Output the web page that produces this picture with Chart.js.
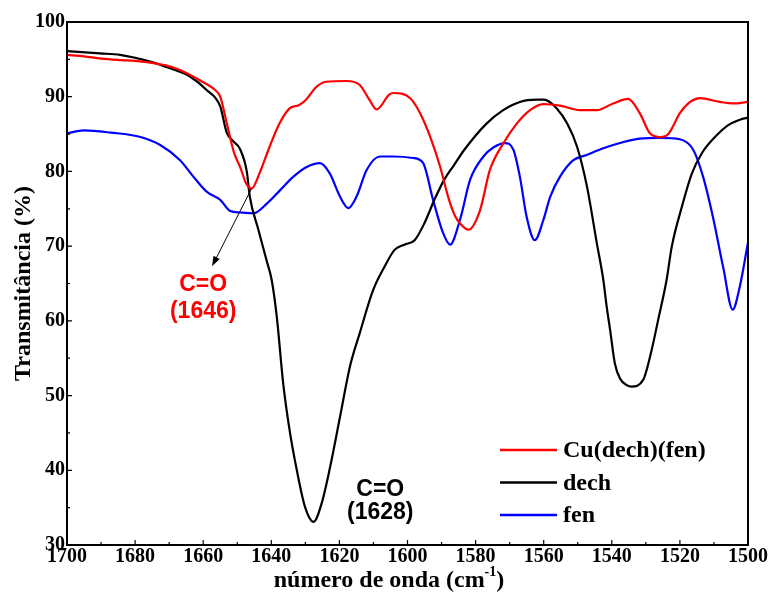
<!DOCTYPE html>
<html>
<head>
<meta charset="utf-8">
<script src="https://cdn.jsdelivr.net/npm/chart.js@4.4.1/dist/chart.umd.min.js"></script>
<style>
  html, body { margin: 0; padding: 0; background: #fff; }
  #wrap { width: 770px; height: 601px; }
</style>
</head>
<body>
<div id="wrap"><canvas id="ftir"></canvas></div>
<script>
// ── 数据 ─────────────────────────────────────────
const X_TICKS = [1700, 1680, 1660, 1640, 1620, 1600, 1580, 1560, 1540, 1520, 1500];
const Y_TICKS = [30, 40, 50, 60, 70, 80, 90, 100];

const cuX = [1700, 1695, 1690, 1684, 1680, 1676, 1671, 1667, 1661, 1656.5, 1655, 1653, 1651, 1649, 1647.5, 1645.8,
    1643.5, 1640.5, 1637.6, 1634.7, 1631.8, 1629.8, 1626.8, 1623.9, 1618, 1614.1, 1611.2, 1609.1, 1605.3, 1604.2,
    1599.2, 1596.3, 1593.3, 1590.4, 1588, 1586, 1584.5, 1582.1, 1578.7, 1575.8, 1571.8, 1567.9, 1564, 1560.1, 1555.2,
    1549.3, 1544.4, 1539.6, 1535.2, 1531.8, 1528.8, 1525.8, 1523.4, 1520, 1517, 1514.1, 1508.3, 1504.4, 1500];
const cuY = [95.6, 95.4, 95.1, 94.9, 94.8, 94.6, 94.2, 93.6, 92.2, 90.9, 90.0, 86.3, 82.6, 80.4, 78.5, 77.7,
    79.7, 83.3, 86.4, 88.4, 88.9, 89.6, 91.3, 92.0, 92.1, 91.6, 89.6, 88.3, 90.3, 90.5,
    89.8, 87.8, 84.6, 80.6, 76.5, 74.0, 73.0, 72.2, 74.8, 80.2, 83.8, 86.4, 88.2, 89.0, 88.8,
    88.2, 88.2, 89.1, 89.7, 87.8, 85.1, 84.6, 85.0, 87.8, 89.3, 89.8, 89.3, 89.1, 89.3];

const dechX = [1700, 1690.3, 1684.4, 1675.6, 1669.7, 1663.9, 1659, 1655, 1653.1, 1651.1, 1649.2, 1647.2, 1646.3,
    1643.8, 1641.4, 1639.9, 1638.4, 1636.5, 1634.5, 1632.5, 1630.1, 1627.6, 1625.2, 1622.7, 1619.8, 1616.9, 1614, 1610.1,
    1606.8, 1603.8, 1600.9, 1597.9, 1595, 1592.1, 1589.2, 1586.4, 1583.3, 1576.8, 1571.9, 1567, 1562, 1560,
    1556.1, 1553.1, 1550.2, 1547.3, 1544.4, 1542.5, 1541.5, 1540.5, 1539.1, 1537.6, 1535.6, 1534.2, 1530.8,
    1528.3, 1526.4, 1523.9, 1522.4, 1519.4, 1516.5, 1513.6, 1509.7, 1505.8, 1501.9, 1500];
const dechY = [96.1, 95.8, 95.6, 94.7, 93.8, 92.7, 90.9, 88.7, 85.2, 84.0, 83.0, 80.0, 76.6,
    72.2, 68.1, 65.5, 60.6, 51.6, 45.0, 40.0, 35.1, 33.1, 35.6, 40.5, 47.2, 53.9, 58.4, 64.1,
    67.2, 69.5, 70.2, 70.8, 73.1, 76.2, 78.9, 80.8, 82.9, 86.4, 88.2, 89.3, 89.6, 89.6,
    88.4, 86.4, 83.3, 78.0, 70.4, 65.5, 61.9, 58.8, 54.3, 52.3, 51.4, 51.2, 52.1,
    56.1, 60.1, 65.5, 69.9, 75.3, 79.7, 82.4, 84.6, 86.2, 87.0, 87.2];

const fenX = [1700, 1695.1, 1687.2, 1678.4, 1672.5, 1666.8, 1662.9, 1659, 1655, 1652.1, 1649.2, 1645.2, 1641.3,
    1637.4, 1633.5, 1629.6, 1625.7, 1622.8, 1619.8, 1617.4, 1615, 1612, 1608.1, 1604.2, 1598.4, 1595.4, 1592.5,
    1589.5, 1587.5, 1584.6, 1581.6, 1577.7, 1574.8, 1571.4, 1568.9, 1567, 1565, 1562.6, 1560.1, 1558.1, 1555.2,
    1551.3, 1547.4, 1542.5, 1537.6, 1531.8, 1525.8, 1520, 1516.1, 1513.2, 1510.3, 1507.3, 1504.5, 1502.4, 1500];
const fenY = [85.1, 85.5, 85.2, 84.6, 83.5, 81.5, 79.3, 77.3, 76.2, 74.7, 74.5, 74.4, 75.7,
    77.5, 79.3, 80.6, 81.1, 79.7, 76.6, 75.1, 76.6, 80.2, 82.0, 82.0, 81.8, 81.1, 76.2,
    71.7, 70.2, 73.5, 78.9, 82.0, 83.2, 83.8, 82.9, 79.3, 73.9, 70.8, 73.5, 76.6, 79.3,
    81.5, 82.2, 83.1, 83.8, 84.4, 84.5, 84.3, 82.9, 79.3, 73.9, 67.2, 61.5, 64.6, 70.5];

// 标注：C=O 峰
const peakCu   = { from: [1645.8, 77.7], to: [1657.4, 67.3], text: ['C=O', '(1646)'], at: [[1660, 64.8], [1660, 61.2]], color: '#ff0000' };
const peakDech = { text: ['C=O', '(1628)'], at: [[1608, 37.4], [1608, 34.3]], color: '#000000' };

const SERIF = '"Liberation Serif", "Times New Roman", serif';
const SANS  = '"Liberation Sans", Arial, sans-serif';

const toPts = (xs, ys) => xs.map((x, i) => ({ x: x, y: ys[i] }));

// ── 插件：边框、内刻度、图例、标注、x 轴标题 ─────────
const decor = {
    id: 'decor',
    afterDraw(chart) {
        const { ctx, chartArea: a, scales } = chart;
        const sx = scales.x, sy = scales.y;
        ctx.save();

        // 内向刻度
        ctx.strokeStyle = '#000';
        ctx.lineWidth = 1.2;
        ctx.beginPath();
        for (let w = 1500; w <= 1700; w += 10) {
            const px = sx.getPixelForValue(w);
            const len = w % 20 === 0 ? 5 : 3;
            ctx.moveTo(px, a.bottom); ctx.lineTo(px, a.bottom - len);
        }
        for (let t = 30; t <= 100; t += 5) {
            const py = sy.getPixelForValue(t);
            const len = t % 10 === 0 ? 5 : 3;
            ctx.moveTo(a.left, py); ctx.lineTo(a.left + len, py);
        }
        ctx.stroke();

        // 边框
        ctx.lineWidth = 2;
        ctx.strokeRect(a.left, a.top, a.right - a.left, a.bottom - a.top);

        // 箭头
        const x0 = sx.getPixelForValue(peakCu.from[0]), y0 = sy.getPixelForValue(peakCu.from[1]);
        const x1 = sx.getPixelForValue(peakCu.to[0]),   y1 = sy.getPixelForValue(peakCu.to[1]);
        const ang = Math.atan2(y1 - y0, x1 - x0);
        ctx.lineWidth = 1;
        ctx.beginPath();
        ctx.moveTo(x0, y0);
        ctx.lineTo(x1 - 8 * Math.cos(ang), y1 - 8 * Math.sin(ang));
        ctx.stroke();
        ctx.beginPath();
        ctx.moveTo(x1, y1);
        ctx.lineTo(x1 - 10 * Math.cos(ang) + 3.5 * Math.sin(ang), y1 - 10 * Math.sin(ang) - 3.5 * Math.cos(ang));
        ctx.lineTo(x1 - 10 * Math.cos(ang) - 3.5 * Math.sin(ang), y1 - 10 * Math.sin(ang) + 3.5 * Math.cos(ang));
        ctx.closePath();
        ctx.fillStyle = '#000';
        ctx.fill();

        // 峰标注文字
        ctx.font = 'bold 23px ' + SANS;
        ctx.textAlign = 'center';
        ctx.textBaseline = 'middle';
        [peakCu, peakDech].forEach(p => {
            ctx.fillStyle = p.color;
            p.text.forEach((s, i) => {
                ctx.fillText(s, sx.getPixelForValue(p.at[i][0]), sy.getPixelForValue(p.at[i][1]));
            });
        });

        // 图例
        ctx.textAlign = 'left';
        ctx.font = 'bold 24px ' + SERIF;
        chart.data.datasets.forEach((ds, i) => {
            const y = 450 + i * 32.5;
            ctx.strokeStyle = ds.borderColor;
            ctx.lineWidth = 2.5;
            ctx.beginPath();
            ctx.moveTo(500, y); ctx.lineTo(557, y);
            ctx.stroke();
            ctx.fillStyle = '#000';
            ctx.fillText(ds.label, 563, y + 1);
        });

        // x 轴标题（带上标）
        const main = 'número de onda (cm', sup = '-1', tail = ')';
        ctx.textBaseline = 'alphabetic';
        ctx.font = 'bold 24px ' + SERIF;
        const wMain = ctx.measureText(main).width, wTail = ctx.measureText(tail).width;
        ctx.font = 'bold 14px ' + SERIF;
        const wSup = ctx.measureText(sup).width;
        let tx = 389 - (wMain + wSup + wTail) / 2;
        const base = 587;
        ctx.fillStyle = '#000';
        ctx.font = 'bold 24px ' + SERIF;
        ctx.fillText(main, tx, base);
        tx += wMain;
        ctx.font = 'bold 14px ' + SERIF;
        ctx.fillText(sup, tx, base - 11);
        tx += wSup;
        ctx.font = 'bold 24px ' + SERIF;
        ctx.fillText(tail, tx, base);

        ctx.restore();
    }
};

const lineDs = (label, xs, ys, color) => ({
    label: label,
    data: toPts(xs, ys),
    borderColor: color,
    backgroundColor: color,
    borderWidth: 2.2,
    pointRadius: 0,
    cubicInterpolationMode: 'monotone',
    fill: false,
});

new Chart(document.getElementById('ftir').getContext('2d'), {
    type: 'line',
    data: {
        datasets: [
            lineDs('Cu(dech)(fen)', cuX, cuY, '#ff0000'),
            lineDs('dech', dechX, dechY, '#000000'),
            lineDs('fen', fenX, fenY, '#0000ff'),
        ]
    },
    options: {
        responsive: true,
        maintainAspectRatio: false,
        animation: false,
        layout: { padding: { left: 0, right: 22, top: 22, bottom: 0 } },
        plugins: {
            legend: { display: false },
            tooltip: { enabled: false },
        },
        scales: {
            x: {
                type: 'linear',
                reverse: true,
                min: 1500,
                max: 1700,
                afterBuildTicks: s => { s.ticks = X_TICKS.map(v => ({ value: v })); },
                afterFit: s => { s.height = 56; },
                grid: { display: false, drawTicks: false },
                border: { display: false },
                ticks: {
                    padding: 0,
                    color: '#000',
                    maxRotation: 0,
                    autoSkip: false,
                    callback: v => String(v),
                    font: { family: SERIF, size: 20, weight: 'bold' },
                },
            },
            y: {
                type: 'linear',
                min: 30,
                max: 100,
                afterBuildTicks: s => { s.ticks = Y_TICKS.map(v => ({ value: v })); },
                afterFit: s => { s.width = 67; },
                grid: { display: false, drawTicks: false },
                border: { display: false },
                title: {
                    display: true,
                    text: 'Transmitância (%)',
                    color: '#000',
                    padding: { top: 9, bottom: 0 },
                    font: { family: SERIF, size: 24, weight: 'bold', lineHeight: 1.2 },
                },
                ticks: {
                    padding: 2,
                    color: '#000',
                    autoSkip: false,
                    callback: v => String(v),
                    font: { family: SERIF, size: 20, weight: 'bold' },
                },
            }
        }
    },
    plugins: [decor],
});
</script>
</body>
</html>
